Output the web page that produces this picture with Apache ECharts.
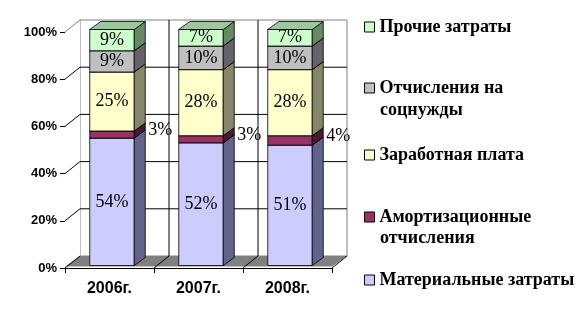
<!DOCTYPE html>
<html>
<head>
<meta charset="utf-8">
<script src="https://cdn.jsdelivr.net/npm/echarts@6/dist/echarts.min.js"></script>
<style>
html,body{margin:0;padding:0;background:#fff;}
#chart{width:583px;height:324px;}
</style>
</head>
<body>
<div id="chart"></div>
<script>
// ---- data ----
const years = ['2006г.', '2007г.', '2008г.'];
const material = [54, 52, 51];
const amort = [3, 3, 4];
const wages = [25, 28, 28];
const social = [9, 10, 10];
const other = [9, 7, 7];
const yTicks = [0, 20, 40, 60, 80, 100];

const seriesNames = ['Материальные затраты', 'Амортизационные отчисления', 'Заработная плата', 'Отчисления на соцнужды', 'Прочие затраты'];
const seriesValues = [material, amort, wages, social, other];

// ---- styles ----
const faceColors = [
  {front: '#CCCCFF', side: '#62628A', top: '#9A9ACC'},
  {front: '#993366', side: '#4A1830', top: '#772850'},
  {front: '#FFFFCC', side: '#86866A', top: '#CCCCA0'},
  {front: '#C0C0C0', side: '#66626A', top: '#999999'},
  {front: '#CCFFCC', side: '#668A66', top: '#9CC89C'}
];
const WALL = [15, -12];
const BAR_OFF = [2.5, -2.5];
const BAR_D = [11, -8];
const LBL_FONT = '18px "Liberation Serif", "Times New Roman", serif';

const chart = echarts.init(document.getElementById('chart'), null, {renderer: 'canvas'});

function wallsRender(params, api) {
  const cs = params.coordSys;
  const x0 = cs.x, x1 = cs.x + cs.width, yt = cs.y, yb = cs.y + cs.height;
  const dx = WALL[0], dy = WALL[1];
  const ch = [];
  ch.push({type: 'rect', shape: {x: x0 + dx, y: yt + dy, width: cs.width, height: cs.height},
    style: {fill: '#fff', stroke: '#808080', lineWidth: 1}});
  ch.push({type: 'polygon', shape: {points: [[x0, yt], [x0 + dx, yt + dy], [x0 + dx, yb + dy], [x0, yb]]},
    style: {fill: '#fff', stroke: null}});
  ch.push({type: 'line', shape: {x1: x0, y1: yt, x2: x0 + dx, y2: yt + dy}, style: {stroke: '#808080', lineWidth: 1}});
  ch.push({type: 'polygon', shape: {points: [[x0, yb - 1.5], [x1, yb - 1.5], [x1 + dx, yb + dy], [x0 + dx, yb + dy]]},
    style: {fill: '#808080', stroke: null}});
  yTicks.forEach(function (v) {
    if (v === 100) return;
    const y = api.coord([0, v])[1];
    if (v !== 0) {
      ch.push({type: 'line', shape: {x1: x0 + dx, y1: y + dy, x2: x1 + dx, y2: y + dy}, style: {stroke: '#000', lineWidth: 1}});
    }
    ch.push({type: 'line', shape: {x1: x0, y1: y, x2: x0 + dx, y2: y + dy}, style: {stroke: '#000', lineWidth: 1}});
  });
  const bw = api.size([1, 0])[0];
  for (let i = 1; i <= years.length; i++) {
    const xb = api.coord([i, 0])[0] - bw / 2;
    if (i < years.length) {
      ch.push({type: 'line', shape: {x1: xb + dx, y1: yt + dy, x2: xb + dx, y2: yb + dy}, style: {stroke: '#000', lineWidth: 1}});
    }
    ch.push({type: 'line', shape: {x1: xb, y1: yb, x2: xb + dx, y2: yb + dy}, style: {stroke: '#000', lineWidth: 1}});
  }
  return {type: 'group', children: ch, silent: true};
}

function makeBarRender(si) {
  const c = faceColors[si];
  return function (params, api) {
    const idx = api.value(0), base = api.value(1), val = api.value(2);
    const cx = api.coord([idx, 0])[0];
    const bw = api.size([1, 0])[0] * 0.5;
    const x0 = cx - bw / 2 + BAR_OFF[0], x1 = cx + bw / 2 + BAR_OFF[0];
    const yTop = api.coord([idx, base + val])[1] + BAR_OFF[1];
    const yBot = api.coord([idx, base])[1] + BAR_OFF[1];
    const dx = BAR_D[0], dy = BAR_D[1];
    const ch = [
      {type: 'rect', shape: {x: x0, y: yTop, width: x1 - x0, height: yBot - yTop},
        style: {fill: c.front, stroke: '#000', lineWidth: 0.8}},
      {type: 'polygon', shape: {points: [[x1, yTop], [x1 + dx, yTop + dy], [x1 + dx, yBot + dy], [x1, yBot]]},
        style: {fill: c.side, stroke: '#000', lineWidth: 0.8}},
      {type: 'polygon', shape: {points: [[x0, yTop], [x1, yTop], [x1 + dx, yTop + dy], [x0 + dx, yTop + dy]]},
        style: {fill: c.top, stroke: '#000', lineWidth: 0.8}}
    ];
    if (si === 1) {
      ch.push({type: 'text', z2: 10, style: {text: val + '%', x: x1 + dx + 3, y: (yTop + yBot) / 2 + dy / 2,
        align: 'left', verticalAlign: 'middle', font: LBL_FONT, fill: '#000'}});
    } else {
      ch.push({type: 'text', z2: 10, style: {text: val + '%', x: (x0 + x1) / 2, y: (yTop + yBot) / 2,
        align: 'center', verticalAlign: 'middle', font: LBL_FONT, fill: '#000'}});
    }
    return {type: 'group', children: ch};
  };
}

const series = [{
  type: 'custom', name: 'walls', renderItem: wallsRender, data: [[0, 0]], z: 1, silent: true,
  encode: {x: 0, y: 1}
}];
const bases = [0, 0, 0];
seriesValues.forEach(function (vals, si) {
  const data = vals.map(function (v, i) {
    const d = [i, bases[i], v];
    bases[i] += v;
    return d;
  });
  series.push({
    type: 'custom', name: seriesNames[si], renderItem: makeBarRender(si), data: data, z: 2 + si,
    itemStyle: {color: faceColors[si].front}, encode: {x: 0, y: [1, 2]}
  });
});

const legendFont = {fontFamily: '"Liberation Serif", "Times New Roman", serif', fontWeight: 'bold', fontSize: 18, color: '#000', lineHeight: 20};
const legendFirst = {
  'Прочие затраты': 'Прочие затраты',
  'Отчисления на соцнужды': 'Отчисления на',
  'Заработная плата': 'Заработная плата',
  'Амортизационные отчисления': 'Амортизационные',
  'Материальные затраты': 'Материальные затраты'
};
const legendOrder = ['Прочие затраты', 'Отчисления на соцнужды', 'Заработная плата', 'Амортизационные отчисления', 'Материальные затраты'];
const legendTops = [17, 78, 145, 207, 270];
const legends = legendOrder.map(function (n, i) {
  return {
    data: [n], left: 364, top: legendTops[i], padding: 0, orient: 'vertical',
    icon: 'rect', itemWidth: 10, itemHeight: 10, selectedMode: false,
    itemStyle: {borderColor: '#000', borderWidth: 1},
    formatter: function (name) { return legendFirst[name]; },
    textStyle: legendFont
  };
});

chart.setOption({
  animation: false,
  backgroundColor: '#fff',
  title: [
    {text: 'соцнужды', left: 380, top: 100, padding: 0, textStyle: legendFont},
    {text: 'отчисления', left: 380, top: 228, padding: 0, textStyle: legendFont}
  ],
  legend: legends,
  grid: {left: 65, top: 32, width: 267, height: 236, containLabel: false},
  xAxis: {
    type: 'category', data: years, boundaryGap: true,
    axisLine: {show: true, lineStyle: {color: '#000', width: 1}},
    axisTick: {show: true, length: 5, lineStyle: {color: '#000'}},
    axisLabel: {margin: 13, color: '#000', fontSize: 16, fontWeight: 'bold', fontFamily: '"Liberation Sans", Arial, sans-serif'},
    splitLine: {show: false}
  },
  yAxis: {
    type: 'value', min: 0, max: 100, interval: 20,
    axisLine: {show: true, lineStyle: {color: '#000', width: 1}},
    axisTick: {show: true, length: 5, lineStyle: {color: '#000'}},
    axisLabel: {margin: 8, color: '#000', fontSize: 13, fontWeight: 'bold', fontFamily: '"Liberation Sans", Arial, sans-serif', formatter: '{value}%'},
    splitLine: {show: false}
  },
  series: series
});
</script>
</body>
</html>
